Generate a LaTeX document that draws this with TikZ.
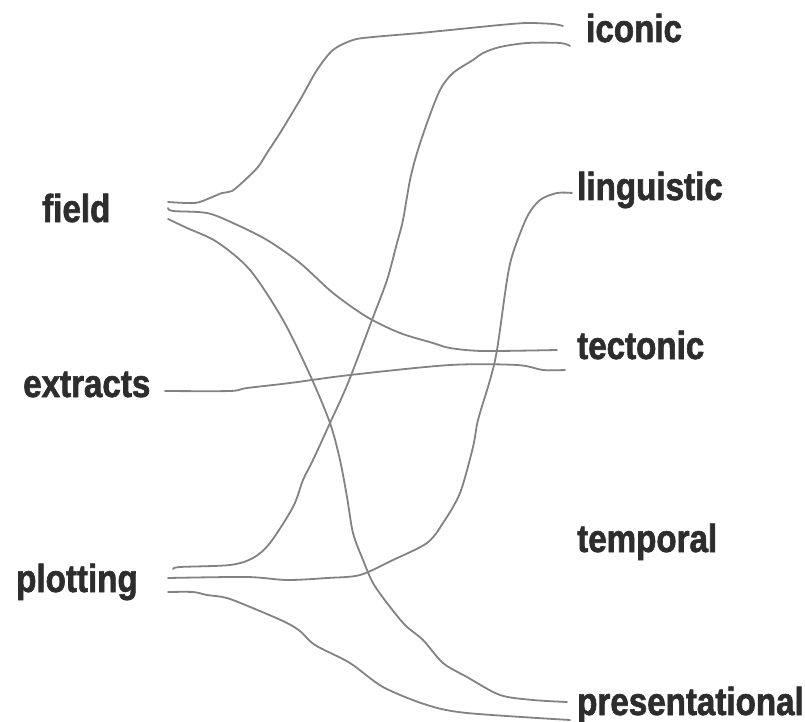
\documentclass[tikz,border=0pt]{standalone}
\usepackage{fontspec}
\newfontfamily\labelfont[FakeStretch=0.85,FakeBold=1.6]{Liberation Sans Bold}
\definecolor{inkgray}{RGB}{45,45,45}
\definecolor{wiregray}{RGB}{130,130,130}
\begin{document}
\begin{tikzpicture}[x=1pt,y=-1pt,
  term/.style={inner sep=0pt, anchor=base west, text=inkgray,
    font=\labelfont\fontsize{39}{39}\selectfont},
  wire/.style={draw=wiregray, line width=1.8pt, line cap=round, line join=round},
  handline/.style={smooth, tension=0.5}]
\useasboundingbox (0,0) rectangle (805,722);

% left-hand terms
\node[term] (field)    at (42,222) {field};
\node[term] (extracts) at (23,397) {extracts};
\node[term] (plotting) at (16,592) {plotting};

% right-hand terms
\node[term] (iconic)         at (586,42)  {iconic};
\node[term] (linguistic)     at (577,200) {linguistic};
\node[term] (tectonic)       at (577,359) {tectonic};
\node[term] (temporal)       at (577,552) {temporal};
\node[term] (presentational) at (577,715) {presentational};

% loose ends of the strokes beside each term
\coordinate (field-a) at (168,202);
\coordinate (field-b) at (168,208);
\coordinate (field-c) at (168,219);
\coordinate (extracts-a) at (165,391);
\coordinate (plotting-a) at (173,569);
\coordinate (plotting-b) at (168,578);
\coordinate (plotting-c) at (168,592);
\coordinate (iconic-a) at (563,26);
\coordinate (iconic-b) at (570,46);
\coordinate (linguistic-a) at (572,193);
\coordinate (tectonic-a) at (557,350);
\coordinate (tectonic-b) at (565,370);
\coordinate (presentational-a) at (567,702);
\coordinate (presentational-b) at (570,720);

% field -> iconic
\draw[wire] plot[handline] coordinates {(field-a) (195,203) (210,198) (222,193)
  (232,191) (245,180) (258,167) (267,153) (280,133) (300,100) (317,70) (333,50)
  (353,40) (373,37) (420,33) (460,29) (500,25) (527,23) (553,24) (iconic-a)};

% field -> tectonic
\draw[wire] plot[handline] coordinates {(field-b) (173,211) (207,213) (233,223)
  (267,240) (300,263) (333,293) (367,317) (400,333) (433,343) (450,348)
  (483,351) (tectonic-a)};

% field -> presentational
\draw[wire] plot[handline] coordinates {(field-c) (187,228) (217,242) (250,270)
  (283,320) (310,375) (330,423) (340,460) (347,497) (353,533) (363,560)
  (373,583) (387,603) (405,625) (423,640) (443,663) (467,677) (500,695)
  (533,700) (presentational-a)};

% extracts -> tectonic
\draw[wire] plot[handline] coordinates {(extracts-a) (230,391) (247,388)
  (290,383) (350,375) (450,365) (517,365) (543,370) (tectonic-b)};

% plotting -> iconic
\draw[wire] plot[handline] coordinates {(plotting-a) (180,567) (230,565)
  (253,558) (270,543) (293,507) (303,480) (313,460) (330,423) (348,383)
  (372,320) (387,280) (397,243) (403,220) (410,180) (417,153) (427,123)
  (440,90) (453,73) (473,60) (483,53) (500,47) (527,43) (560,43) (iconic-b)};

% plotting -> linguistic
\draw[wire] plot[handline] coordinates {(plotting-b) (247,577) (287,580)
  (327,578) (360,575) (393,560) (427,543) (443,523) (460,493) (473,447)
  (478,420) (490,380) (497,350) (507,280) (513,253) (527,217) (540,200)
  (557,193) (linguistic-a)};

% plotting -> presentational
\draw[wire] plot[handline] coordinates {(plotting-c) (193,592) (207,595)
  (227,598) (255,609) (285,622) (300,631) (315,645) (350,663) (383,687)
  (427,705) (467,713) (presentational-b)};
\end{tikzpicture}
\end{document}
